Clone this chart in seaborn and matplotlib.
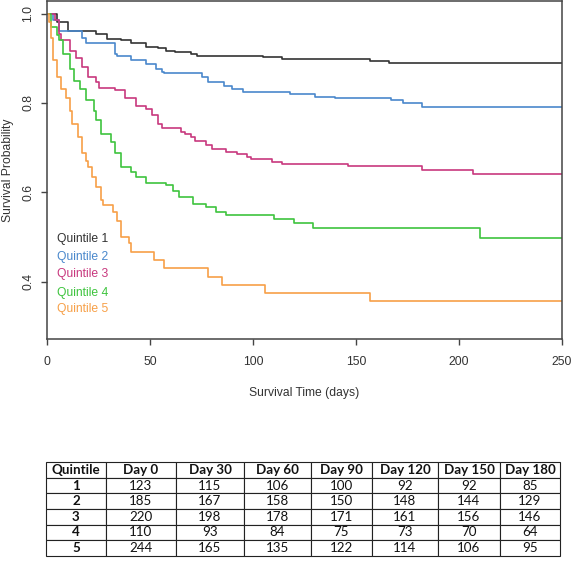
import numpy as np
import pandas as pd
import matplotlib
matplotlib.use('Agg')
import matplotlib.pyplot as plt
import seaborn as sns

# Kaplan-Meier step points (day, survival after step)
q1_days = [0, 5, 10, 24, 29, 36, 41, 48, 54, 58, 62, 70, 73, 105, 114, 157, 166, 250]
q1_surv = [1.0, 0.98, 0.962, 0.955, 0.944, 0.94, 0.933, 0.925, 0.922, 0.917, 0.914, 0.91, 0.906, 0.902, 0.898, 0.893, 0.89, 0.89]

q2_days = [0, 3, 6, 17, 19, 29, 33, 34, 41, 48, 53, 56, 57, 75, 78, 86, 90, 95, 118, 130, 140, 167, 173, 182, 250]
q2_surv = [1.0, 0.985, 0.962, 0.946, 0.935, 0.933, 0.91, 0.905, 0.895, 0.888, 0.877, 0.87, 0.866, 0.857, 0.846, 0.837, 0.832, 0.824, 0.821, 0.814, 0.811, 0.806, 0.799, 0.792, 0.792]

q3_days = [0, 4, 6, 7, 11, 14, 17, 20, 24, 25, 33, 38, 43, 48, 51, 54, 56, 65, 67, 70, 72, 77, 80, 87, 92, 97, 99, 109, 114, 146, 182, 207, 250]
q3_surv = [1.0, 0.985, 0.955, 0.94, 0.917, 0.9, 0.88, 0.857, 0.846, 0.834, 0.828, 0.81, 0.794, 0.787, 0.772, 0.754, 0.745, 0.734, 0.73, 0.723, 0.714, 0.707, 0.698, 0.69, 0.685, 0.678, 0.674, 0.668, 0.664, 0.658, 0.651, 0.641, 0.641]

q4_days = [0, 2, 5, 6, 8, 11, 13, 16, 19, 23, 24, 26, 31, 33, 36, 41, 43, 48, 58, 61, 64, 71, 77, 82, 87, 110, 120, 129, 210, 250]
q4_surv = [1.0, 0.97, 0.951, 0.94, 0.91, 0.877, 0.85, 0.832, 0.806, 0.783, 0.761, 0.73, 0.712, 0.687, 0.656, 0.645, 0.634, 0.622, 0.616, 0.604, 0.589, 0.575, 0.567, 0.555, 0.55, 0.54, 0.531, 0.52, 0.497, 0.497]

q5_days = [0, 1, 2, 3, 5, 7, 9, 11, 12, 15, 17, 19, 20, 22, 24, 26, 27, 32, 34, 36, 40, 41, 52, 57, 78, 85, 106, 157, 250]
q5_surv = [1.0, 0.98, 0.946, 0.895, 0.857, 0.832, 0.812, 0.783, 0.754, 0.723, 0.687, 0.671, 0.656, 0.634, 0.611, 0.582, 0.571, 0.555, 0.537, 0.5, 0.486, 0.466, 0.448, 0.43, 0.41, 0.392, 0.374, 0.356, 0.356]

labels = ['Quintile 1', 'Quintile 2', 'Quintile 3', 'Quintile 4', 'Quintile 5']
colors = ['#333333', '#4a88cc', '#c8387e', '#3ec43e', '#f7a048']

# number at risk table
table_header = ['Quintile', 'Day 0', 'Day 30', 'Day 60', 'Day 90', 'Day 120', 'Day 150', 'Day 180']
risk_q1 = [123, 115, 106, 100, 92, 92, 85]
risk_q2 = [185, 167, 158, 150, 148, 144, 129]
risk_q3 = [220, 198, 178, 171, 161, 156, 146]
risk_q4 = [110, 93, 84, 75, 73, 70, 64]
risk_q5 = [244, 165, 135, 122, 114, 106, 95]

frames = []
for lab, d, s in zip(labels, [q1_days, q2_days, q3_days, q4_days, q5_days],
                     [q1_surv, q2_surv, q3_surv, q4_surv, q5_surv]):
    frames.append(pd.DataFrame({'time': d, 'surv': s, 'group': lab}))
df = pd.concat(frames, ignore_index=True)

sns.set_style('ticks')
plt.rcParams['font.family'] = ['Liberation Sans', 'DejaVu Sans']

fig = plt.figure(figsize=(5.72, 5.61), dpi=100)
ax = fig.add_axes([47 / 572, 1 - 339 / 561, 515 / 572, 338 / 561])

sns.lineplot(data=df, x='time', y='surv', hue='group', palette=colors,
             drawstyle='steps-post', estimator=None, legend=False,
             linewidth=1.2, ax=ax)

ax.set_xlim(0, 250)
ax.set_ylim(0.272, 1.028)
ax.set_xticks([0, 50, 100, 150, 200, 250])
ax.set_yticks([0.4, 0.6, 0.8, 1.0])
ax.set_yticklabels(['0.4', '0.6', '0.8', '1.0'], rotation=90, va='center')
ax.tick_params(axis='both', length=4, width=1, color='#444444', labelsize=8.7, labelcolor='#333333')
ax.tick_params(axis='x', pad=8)
ax.tick_params(axis='y', pad=5)
for sp in ax.spines.values():
    sp.set_visible(True)
    sp.set_linewidth(1.1)
    sp.set_color('#444444')

ax.set_xlabel('Survival Time (days)', fontsize=8.7, color='#333333', labelpad=14)
ax.set_ylabel('Survival Probability', fontsize=8.7, color='#333333', labelpad=6)

# coloured legend text, no symbols
legend_y = [0.496, 0.456, 0.418, 0.376, 0.338]
for lab, c, yy in zip(labels, colors, legend_y):
    ax.text(4.9, yy, lab, color=c, fontsize=8.7, va='center', ha='left')

# table of numbers at risk
tax = fig.add_axes([46 / 572, 1 - 556 / 561, 514 / 572, 94 / 561])
tax.axis('off')
rows = [risk_q1, risk_q2, risk_q3, risk_q4, risk_q5]
cell_text = [[str(i + 1)] + [str(v) for v in r] for i, r in enumerate(rows)]
col_w = np.array([60, 70, 68, 67, 61, 66, 62, 60], dtype=float)
tbl = tax.table(cellText=cell_text, colLabels=table_header, cellLoc='center',
                colWidths=list(col_w / col_w.sum()), bbox=[0, 0, 1, 1])
tbl.auto_set_font_size(False)
for (r, c), cell in tbl.get_celld().items():
    cell.set_linewidth(0.8)
    cell.set_edgecolor('#222222')
    t = cell.get_text()
    t.set_fontsize(9.6)
    t.set_family(['Lato', 'DejaVu Sans'])
    t.set_color('#111111')
    if r == 0 or c == 0:
        t.set_fontweight('bold')

fig.savefig('out.png', dpi=100)
